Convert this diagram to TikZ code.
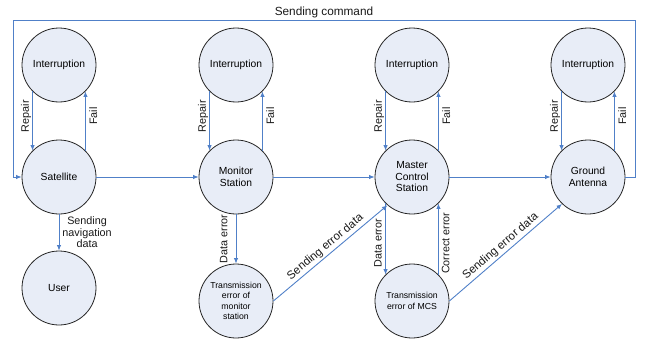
\documentclass[tikz,border=0pt]{standalone}
\usepackage{fontspec}
\setmainfont{Liberation Sans}
\usetikzlibrary{arrows.meta}

\definecolor{stateFill}{RGB}{232,237,247}
\definecolor{flowBlue}{RGB}{80,128,200}

\begin{document}
\begin{tikzpicture}[x=1pt,y=-1pt,
  state/.style={circle,draw=black!85,fill=stateFill,line width=0.8pt,
    minimum size=74pt,inner sep=0pt,align=center,
    font=\fontsize{10.3}{11.5}\selectfont},
  smallstate/.style={state,font=\fontsize{8.7}{10.5}\selectfont},
  flow/.style={draw=flowBlue,line width=0.9pt,-{Latex[length=5.5pt,width=4.5pt]}},
  lbl/.style={font=\fontsize{10.8}{11.5}\selectfont,inner sep=2pt,text=black!90}]

\useasboundingbox (0,0) rectangle (653,340);

% top row: interruptions
\node[state] (int1) at (59,65) {Interruption};
\node[state] (int2) at (236,65) {Interruption};
\node[state] (int3) at (412,65) {Interruption};
\node[state] (int4) at (588,65) {Interruption};

% middle row
\node[state] (sat) at (59,177) {Satellite};
\node[state] (mon) at (236,177) {Monitor\\Station};
\node[state] (mcs) at (412,177) {Master\\Control\\Station};
\node[state] (gnd) at (588,177) {Ground\\Antenna};

% bottom row
\node[state] (user) at (59,288) {User};
\node[smallstate] (errmon) at (236,301) {Transmission\\error of\\monitor\\station};
\node[smallstate] (errmcs) at (412,301) {Transmission\\error of MCS};

% repair / fail loops
\foreach \a/\b in {int1/sat,int2/mon,int3/mcs,int4/gnd}{
  \draw[flow] (\a.225) -- node[lbl,pos=0.42,rotate=90,anchor=south,inner sep=1pt] {Repair} (\b.135);
  \draw[flow] (\b.45) -- node[lbl,pos=0.58,rotate=90,anchor=north,inner sep=3.5pt] {Fail} (\a.315);
}

% main chain
\draw[flow] (sat) -- (mon);
\draw[flow] (mon) -- (mcs);
\draw[flow] (mcs) -- (gnd);

\draw[flow] (sat) -- node[lbl,right,align=center,xshift=1pt] {Sending\\navigation\\data} (user);

\draw[flow] (mon) -- node[lbl,rotate=90,anchor=south,inner sep=8pt] {Data error} (errmon);
\draw[flow] (errmon.east) -- node[lbl,sloped,above,font=\fontsize{11.5}{12}\selectfont] {Sending error data} (mcs.229);

\draw[flow] (mcs.225) -- node[lbl,pos=0.56,rotate=90,anchor=south,inner sep=3.5pt] {Data error} (errmcs.135);
\draw[flow] (errmcs.45) -- node[lbl,pos=0.44,rotate=90,anchor=north,inner sep=3pt] {Correct error} (mcs.315);
\draw[flow] (errmcs.east) -- node[lbl,sloped,above,font=\fontsize{11.5}{12}\selectfont] {Sending error data} (gnd.226);

% command loop back to the satellite
\coordinate (cmdR) at (635,20);
\coordinate (cmdL) at (13,20);
\draw[flow] (gnd.east) -| (cmdR) -- node[lbl,above,font=\fontsize{11.8}{13}\selectfont] {Sending command} (cmdL) |- (sat.west);

\end{tikzpicture}
\end{document}
